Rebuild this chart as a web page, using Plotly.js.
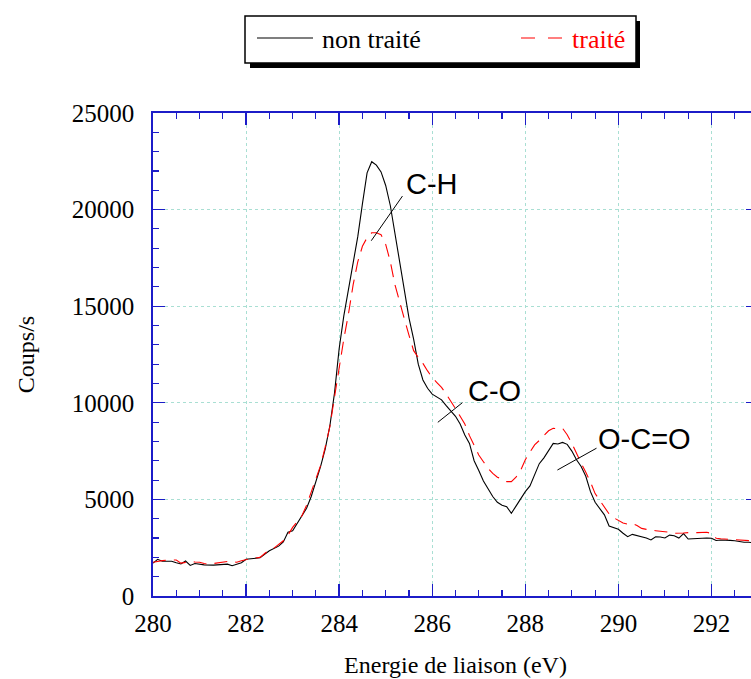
<!DOCTYPE html>
<html>
<head>
<meta charset="utf-8">
<script src="https://cdn.plot.ly/plotly-3.0.1.min.js"></script>
<style>
html,body{margin:0;padding:0;overflow:hidden;background:#fff;}
#chart{width:800px;height:679px;}
</style>
</head>
<body>
<div id="chart"></div>
<script>
// Binding energy (eV)
const energyNonTraite = [280.0,280.1,280.2,280.4,280.5,280.6,280.7,280.8,280.9,281.0,281.1,281.3,281.5,281.6,281.7,281.8,281.9,282.0,282.1,282.3,282.5,282.7,282.8,282.9,283.0,283.1,283.2,283.3,283.4,283.5,283.6,283.7,283.8,283.9,284.0,284.1,284.2,284.3,284.4,284.5,284.6,284.7,284.8,284.9,285.0,285.1,285.2,285.3,285.4,285.5,285.6,285.7,285.8,285.9,286.0,286.1,286.2,286.3,286.4,286.5,286.6,286.7,286.8,286.9,287.0,287.1,287.2,287.3,287.4,287.5,287.6,287.7,287.8,287.9,288.0,288.1,288.2,288.3,288.4,288.5,288.6,288.7,288.8,288.9,289.0,289.1,289.2,289.3,289.4,289.5,289.6,289.7,289.8,289.9,290.0,290.1,290.2,290.3,290.4,290.5,290.6,290.7,290.8,290.9,291.0,291.1,291.2,291.3,291.4,291.5,291.6,291.7,291.8,291.9,292.0,292.1,292.2,292.3,292.4,292.5,292.6,292.7,292.8,292.9];
const countsNonTraite = [1700,1900,1800,1800,1720,1660,1810,1580,1680,1650,1610,1600,1640,1650,1570,1640,1720,1900,1920,1980,2340,2580,2800,3300,3380,3750,4100,4540,5150,5900,6700,7600,8800,10500,12800,14500,15800,17300,18600,20300,21900,22480,22300,21950,21250,20200,18700,17300,15800,14400,13300,12000,11180,10750,10450,10300,10150,9850,9600,9300,8900,8330,7900,7000,6500,5950,5550,5150,4850,4700,4620,4280,4650,5060,5400,5700,6300,6850,7150,7500,7900,7870,7950,7850,7500,7050,6700,6200,5400,4850,4500,4200,3620,3520,3450,3250,3070,3190,3130,3100,3000,2900,3070,3050,3000,3150,3120,3000,3230,2950,2970,2960,2980,3000,2990,2870,2900,2900,2880,2860,2800,2780,2780,2760];

const energyTraite = [280.0,280.1,280.2,280.3,280.4,280.5,280.6,280.7,280.8,280.9,281.0,281.1,281.2,281.3,281.4,281.5,281.6,281.7,281.8,281.9,282.0,282.1,282.2,282.3,282.4,282.5,282.6,282.7,282.8,282.9,283.0,283.1,283.2,283.3,283.4,283.5,283.6,283.7,283.8,283.9,284.0,284.1,284.2,284.3,284.4,284.5,284.6,284.7,284.8,284.9,285.0,285.1,285.2,285.3,285.4,285.5,285.6,285.7,285.8,285.9,286.0,286.1,286.2,286.3,286.4,286.5,286.6,286.7,286.8,286.9,287.0,287.1,287.2,287.3,287.4,287.5,287.6,287.7,287.8,287.9,288.0,288.1,288.2,288.3,288.4,288.5,288.6,288.7,288.8,288.9,289.0,289.1,289.2,289.3,289.4,289.5,289.6,289.7,289.8,289.9,290.0,290.1,290.2,290.3,290.4,290.5,290.6,290.7,290.8,290.9,291.0,291.1,291.2,291.3,291.4,291.5,291.6,291.7,291.8,291.9,292.0,292.1,292.2,292.3,292.4,292.5,292.6,292.7,292.8,292.9];
const countsTraite = [1750,1800,1830,1860,1870,1860,1700,1740,1780,1760,1750,1680,1640,1680,1720,1780,1790,1760,1750,1820,1900,1940,1960,2000,2200,2400,2480,2650,2860,3150,3550,3850,4150,4700,5400,6100,6750,7700,8760,10300,11900,13300,14600,16100,17300,18100,18550,18800,18800,18700,18200,17300,16100,15150,14350,13500,12700,12350,12040,11650,11300,11050,10800,10450,10100,9700,9300,8900,8300,7800,7300,6950,6610,6350,6150,6050,5920,5920,6150,6500,7050,7450,7820,8050,8300,8550,8680,8660,8680,8350,7900,7350,6870,6400,5900,5300,4950,4550,4250,4050,3900,3780,3720,3760,3650,3500,3450,3400,3380,3350,3330,3300,3250,3240,3260,3280,3250,3280,3300,3300,3230,2990,2960,2950,2930,2930,2910,2900,2880,2850];

const seriesNames = ["non traité", "traité"];
const xTickVals = [280,282,284,286,288,290,292];
const yTickVals = [0,5000,10000,15000,20000,25000];
const peakLabels = ["C-H", "C-O", "O-C=O"];
const peakLabelX = [286.0, 287.34, 290.56];
const peakLabelY = [21300, 10600, 8150];

// Page geometry (pixels)
const W = 800, H = 679, ML = 153, MR = 42, MT = 113, MB = 83;
const PW = W - ML - MR, PH = H - MT - MB;
const px = v => (v - ML) / PW;          // pixel x -> paper
const py = v => (MT + PH - v) / PH;     // pixel y -> paper

const serif = "Liberation Serif, Times New Roman, Times, serif";
const sans = "Liberation Sans, Arial, Helvetica, sans-serif";
const axisBlue = "#1c1cc8";
const gridCol = "#a9dfd3";

const traces = [
  {x: energyNonTraite, y: countsNonTraite, name: seriesNames[0], type: "scatter", mode: "lines",
   line: {color: "#000000", width: 1.1}, showlegend: false},
  {x: energyTraite, y: countsTraite, name: seriesNames[1], type: "scatter", mode: "lines",
   line: {color: "#ff0000", width: 1.1, dash: "13px,8px"}, showlegend: false}
];

const axisCommon = {
  showline: true, linecolor: axisBlue, linewidth: 1.8, mirror: "ticks",
  ticks: "inside", ticklen: 12, tickwidth: 1.3, tickcolor: axisBlue,
  showgrid: true, gridcolor: gridCol, griddash: "3px,3px", gridwidth: 1,
  zeroline: false, tickfont: {family: serif, size: 25, color: "#000"}
};

const layout = {
  width: W, height: H,
  margin: {l: ML, r: MR, t: MT, b: MB, pad: 0},
  paper_bgcolor: "#ffffff", plot_bgcolor: "#ffffff",
  showlegend: false,
  xaxis: Object.assign({}, axisCommon, {
    range: [280, 293], tickmode: "array", tickvals: xTickVals, ticktext: xTickVals.map(String),
    minor: {dtick: 0.5, tick0: 280, ticks: "inside", ticklen: 6, tickcolor: axisBlue, tickwidth: 1.1, showgrid: false},
    ticklabelstandoff: 4,
    title: {text: "Energie de liaison (eV)", font: {family: serif, size: 24, color: "#000"}, standoff: 20}
  }),
  yaxis: Object.assign({}, axisCommon, {
    range: [0, 25000], tickmode: "array", tickvals: yTickVals, ticktext: yTickVals.map(String),
    minor: {dtick: 1000, tick0: 0, ticks: "inside", ticklen: 6, tickcolor: axisBlue, tickwidth: 1.1, showgrid: false},
    ticklabelstandoff: 12,
    title: {text: "Coups/s", font: {family: serif, size: 24, color: "#000"}, standoff: 30}
  }),
  shapes: [
    // legend shadow + box
    {type: "rect", xref: "paper", yref: "paper", x0: px(250), x1: px(640), y0: py(21), y1: py(68),
     fillcolor: "#000", line: {width: 0}},
    {type: "rect", xref: "paper", yref: "paper", x0: px(245), x1: px(636), y0: py(16), y1: py(63),
     fillcolor: "#fff", line: {color: "#000", width: 1.5}},
    // legend samples
    {type: "line", xref: "paper", yref: "paper", x0: px(257), x1: px(313), y0: py(38), y1: py(38),
     line: {color: "#000", width: 1.1}},
    {type: "line", xref: "paper", yref: "paper", x0: px(521), x1: px(563), y0: py(38), y1: py(38),
     line: {color: "#ff0000", width: 1.1, dash: "14px,13px"}},
    // peak leader lines
    {type: "line", xref: "x", yref: "y", x0: 284.69, y0: 18390, x1: 285.36, y1: 20700, line: {color: "#000", width: 1}},
    {type: "line", xref: "x", yref: "y", x0: 286.12, y0: 8990, x1: 286.65, y1: 10010, line: {color: "#000", width: 1}},
    {type: "line", xref: "x", yref: "y", x0: 288.69, y0: 6520, x1: 289.53, y1: 7650, line: {color: "#000", width: 1}}
  ],
  annotations: [
    {xref: "paper", yref: "paper", x: px(320), y: py(40), xanchor: "left", yanchor: "middle", showarrow: false,
     text: seriesNames[0], font: {family: serif, size: 26, color: "#000"}},
    {xref: "paper", yref: "paper", x: px(570), y: py(40), xanchor: "left", yanchor: "middle", showarrow: false,
     text: seriesNames[1], font: {family: serif, size: 26, color: "#ff0000"}}
  ].concat(peakLabels.map((t, i) => ({
     xref: "x", yref: "y", x: peakLabelX[i], y: peakLabelY[i], xanchor: "center", yanchor: "middle",
     showarrow: false, text: t, font: {family: sans, size: 29, color: "#000"}})))
};

Plotly.newPlot("chart", traces, layout, {displayModeBar: false, staticPlot: true});
</script>
</body>
</html>
